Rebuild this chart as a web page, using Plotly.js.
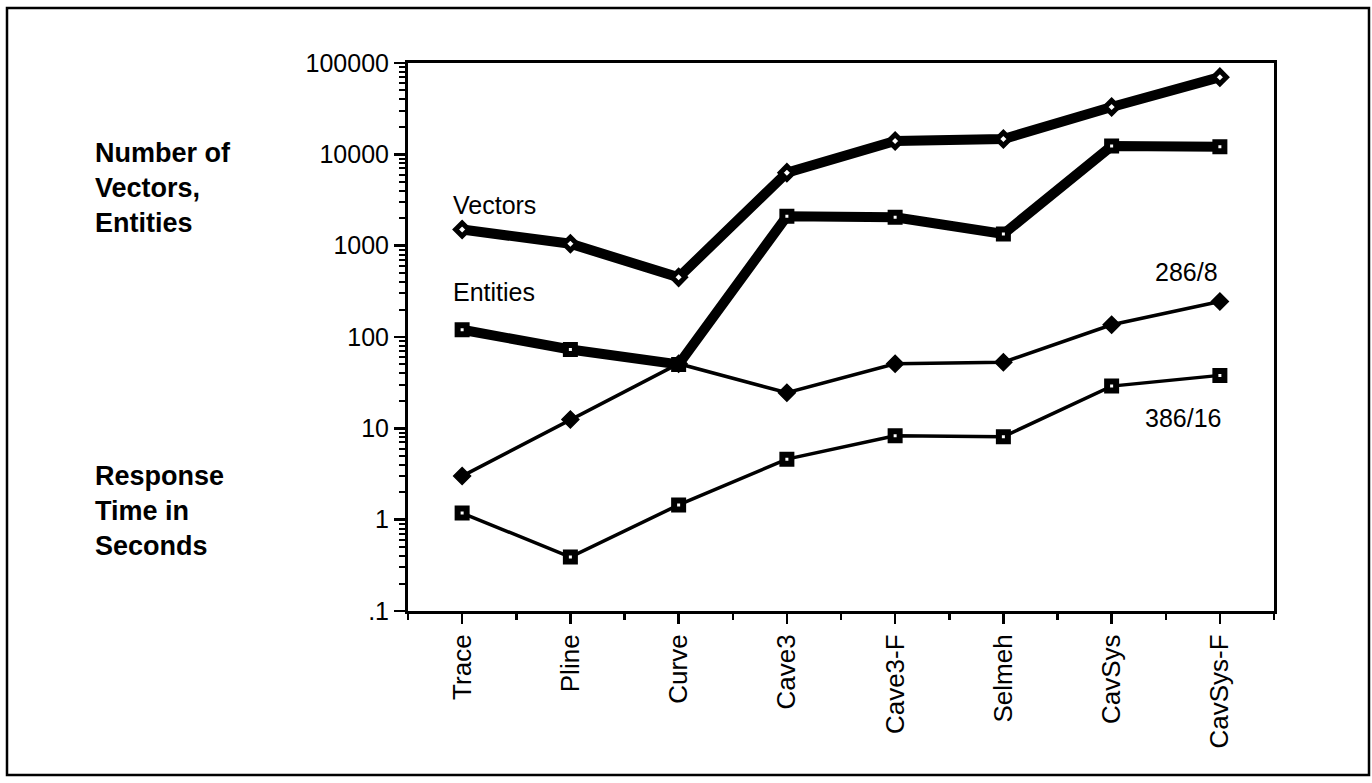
<!DOCTYPE html>
<html>
<head>
<meta charset="utf-8">
<script src="https://cdn.plot.ly/plotly-3.0.1.min.js"></script>
<style>html,body{margin:0;padding:0;background:#fff;}#chart{width:1372px;height:783px;}</style>
</head>
<body>
<div id="chart"></div>
<script>
const categories = ['Trace','Pline','Curve','Cave3','Cave3-F','Selmeh','CavSys','CavSys-F'];
const vectors = [1500, 1050, 450, 6300, 14000, 14700, 33000, 70000];
const entities = [120, 73, 50, 2100, 2050, 1340, 12300, 12100];
const resp286 = [3.0, 12.5, 51, 24.5, 51, 53, 136, 245];
const resp386 = [1.18, 0.39, 1.45, 4.6, 8.3, 8.1, 29, 38];
const yTickVals = [0.1, 1, 10, 100, 1000, 10000, 100000];
const yTickText = ['.1', '1', '10', '100', '1000', '10000', '100000'];

const xIdx = categories.map((c, i) => i);
const FONT = 'Liberation Sans, Arial, Helvetica, sans-serif';

const traces = [
  {x: xIdx, y: vectors, mode: 'lines+markers', name: 'Vectors',
   line: {color: '#000', width: 10},
   marker: {symbol: 'diamond', size: 10, color: '#fff', line: {color: '#000', width: 5}}},
  {x: xIdx, y: entities, mode: 'lines+markers', name: 'Entities',
   line: {color: '#000', width: 10},
   marker: {symbol: 'square', size: 9, color: '#fff', line: {color: '#000', width: 6}}},
  {x: xIdx, y: resp286, mode: 'lines+markers', name: '286/8',
   line: {color: '#000', width: 3.5},
   marker: {symbol: 'diamond', size: 13, color: '#000', line: {color: '#000', width: 1.5}}},
  {x: xIdx, y: resp386, mode: 'lines+markers', name: '386/16',
   line: {color: '#000', width: 3.5},
   marker: {symbol: 'square', size: 9, color: '#fff', line: {color: '#000', width: 6}}}
];

const L = 408, R = 1274, T = 63, B = 611;
const px = v => (v - L) / (R - L);
const py = v => (B - v) / (B - T);

const layout = {
  width: 1372, height: 783,
  margin: {l: L, r: 1372 - R, t: T, b: 783 - B},
  paper_bgcolor: '#fff', plot_bgcolor: '#fff',
  showlegend: false,
  font: {family: FONT, color: '#000'},
  xaxis: {
    range: [-0.5, 7.5], tickvals: xIdx, ticktext: categories,
    tickangle: -90, tickfont: {size: 26, family: FONT},
    ticks: 'outside', ticklen: 10, tickwidth: 2.5, tickcolor: '#000',
    minor: {tick0: -0.5, dtick: 1, ticks: 'outside', ticklen: 6, tickwidth: 2.5, tickcolor: '#000'},
    showline: true, linewidth: 3, linecolor: '#000', mirror: true,
    showgrid: false, zeroline: false, fixedrange: true
  },
  yaxis: {
    type: 'log', range: [-1, 5], tickvals: yTickVals, ticktext: yTickText,
    tickfont: {size: 25, family: FONT},
    ticks: 'outside', ticklen: 11, tickwidth: 2.5, tickcolor: '#000',
    minor: {dtick: 'D1', ticks: 'outside', ticklen: 6, tickwidth: 2, tickcolor: '#000', showgrid: false},
    showline: true, linewidth: 3, linecolor: '#000', mirror: true,
    showgrid: false, zeroline: false, fixedrange: true
  },
  shapes: [
    {type: 'rect', xref: 'paper', yref: 'paper',
     x0: px(7), x1: px(1369), y0: py(775), y1: py(8),
     line: {color: '#000', width: 2.5}, fillcolor: 'rgba(0,0,0,0)'}
  ],
  annotations: [
    {text: 'Number of<br>Vectors,<br>Entities', xref: 'paper', yref: 'paper',
     x: px(93), y: py(188), xanchor: 'left', yanchor: 'middle', align: 'left', showarrow: false,
     font: {size: 27, family: FONT, weight: 'bold'}},
    {text: 'Response<br>Time in<br>Seconds', xref: 'paper', yref: 'paper',
     x: px(93), y: py(511), xanchor: 'left', yanchor: 'middle', align: 'left', showarrow: false,
     font: {size: 27, family: FONT, weight: 'bold'}},
    {text: 'Vectors', xref: 'paper', yref: 'paper', x: px(451), y: py(205),
     xanchor: 'left', yanchor: 'middle', showarrow: false, font: {size: 25, family: FONT}},
    {text: 'Entities', xref: 'paper', yref: 'paper', x: px(451), y: py(292),
     xanchor: 'left', yanchor: 'middle', showarrow: false, font: {size: 25, family: FONT}},
    {text: '286/8', xref: 'paper', yref: 'paper', x: px(1153), y: py(272),
     xanchor: 'left', yanchor: 'middle', showarrow: false, font: {size: 25, family: FONT}},
    {text: '386/16', xref: 'paper', yref: 'paper', x: px(1143), y: py(418),
     xanchor: 'left', yanchor: 'middle', showarrow: false, font: {size: 25, family: FONT}}
  ]
};

Plotly.newPlot('chart', traces, layout, {staticPlot: true, displayModeBar: false});
</script>
</body>
</html>
